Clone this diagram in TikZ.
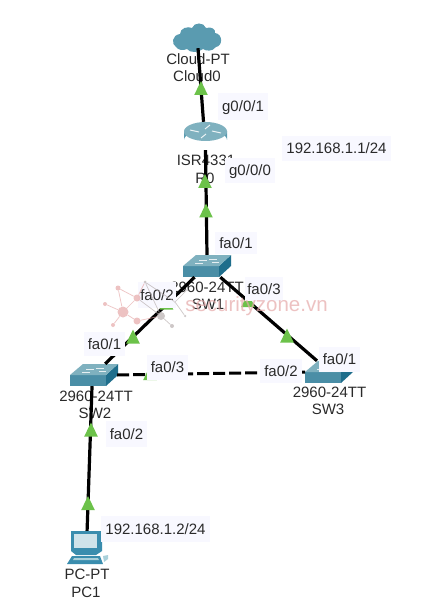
\documentclass[tikz,border=0pt]{standalone}
\usepackage{fontspec}
\setmainfont{Liberation Sans}
\definecolor{boxbg}{HTML}{F8F8FF}
\definecolor{txt}{HTML}{2A2A2A}
\definecolor{arrowgreen}{HTML}{6CC24A}
\definecolor{swfront}{HTML}{4A8EA6}
\definecolor{swtop}{HTML}{7FB1BF}
\definecolor{swside}{HTML}{1F6E8C}
\definecolor{tealdark}{HTML}{5A9BB0}
\definecolor{teallight}{HTML}{A9D0DA}
\definecolor{pcblue}{HTML}{3A8DAE}
\definecolor{pcscreen}{HTML}{CFE3EA}
\definecolor{wmark}{HTML}{E6A9A9}
\definecolor{wgray}{HTML}{B9B0B0}
\tikzset{
  devlabel/.style={font=\fontsize{15}{15}\selectfont,text=txt,inner sep=0pt,text height=10.7pt,text depth=0pt},
  portbox/.style={devlabel,fill=boxbg,minimum height=#1},
  portbox/.default=25pt,
  devframe/.style={inner sep=0pt,draw=none,fill=none},
  wire/.style={line width=3.2pt,black},
  dashwire/.style={line width=3pt,black,dash pattern=on 12pt off 4pt},
  gtri/.pic={\fill[arrowgreen] (-6.8,0) -- (0,-14) -- (6.8,0) -- cycle;},
  switchicon/.pic={
    \fill[swfront] (-24,0) rectangle (12,11);
    \fill[swside] (12,11) -- (24,0) -- (24,-11) -- (12,0) -- cycle;
    \fill[swtop] (-24,0) -- (-11,-11) -- (24,-11) -- (12,0) -- cycle;
    \draw[white,line width=.7pt,opacity=.8] (-12,-3) -- (-4,-3) (-8,-6) -- (0,-6) (2,-7) -- (10,-7) (5,-4) -- (12,-4);
  },
  wdot/.style={circle,fill=wmark,inner sep=0pt,minimum size=#1},
  wgdot/.style={circle,fill=wgray,inner sep=0pt,minimum size=#1},
}
\begin{document}
\begin{tikzpicture}[x=1pt,y=-1pt]
\useasboundingbox[fill=white] (0,0) rectangle (431,609);
% device labels (under the wires)
\node[devlabel] (lc1) at (198,59) {Cloud-PT};
\node[devlabel] (lc2) at (197,76) {Cloud0};
\node[devlabel] (lr1) at (206,160) {ISR4331};
\node[devlabel] (lr2) at (205,178) {R0};
\node[devlabel] (ls1a) at (207,287) {2960-24TT};
\node[devlabel] (ls1b) at (208,304) {SW1};
\node[devlabel] (ls2a) at (96,396) {2960-24TT};
\node[devlabel] (ls2b) at (95,413) {SW2};
\node[devlabel] (ls3a) at (329.5,392) {2960-24TT};
\node[devlabel] (ls3b) at (328,409) {SW3};
\node[devlabel] (lp1) at (87,574) {PC-PT};
\node[devlabel] (lp2) at (86,592) {PC1};
% device frames
\node[devframe,minimum width=47pt,minimum height=24pt] (cloud) at (198,36) {};
\node[devframe,minimum width=43pt,minimum height=28pt] (router) at (205.5,136) {};
\node[devframe,minimum width=48pt,minimum height=22pt] (sw1) at (207,266) {};
\node[devframe,minimum width=46pt,minimum height=22pt] (sw2) at (94,375) {};
\node[devframe,minimum width=46pt,minimum height=22pt] (sw3) at (329,372) {};
\node[devframe,minimum width=37pt,minimum height=34pt] (pc) at (89.5,548) {};
% cloud
\shade[left color=tealdark,middle color=teallight,right color=tealdark]
  (176,47) .. controls (171,44) and (172,35) .. (180,34)
  .. controls (180,28) and (188,26) .. (192,28)
  .. controls (194,22) and (204,22) .. (206,28)
  .. controls (212,26) and (216,30) .. (215,33)
  .. controls (223,34) and (223,46) .. (216,47)
  .. controls (212,52) and (206,51) .. (203,49)
  .. controls (198,53) and (190,53) .. (187,49)
  .. controls (183,51) and (178,50) .. (176,47) -- cycle;
% router
\shade[left color=tealdark,middle color=white!70!teallight,right color=tealdark]
  (184,131) -- (184,140) arc[start angle=180,end angle=360,x radius=21.5,y radius=9.5] -- (227,131) -- cycle;
\fill[swtop] (205.5,131.5) ellipse[x radius=21.5,y radius=9.5];
\draw[white,line width=1pt,opacity=.85] (190,130) -- (199,132) (221,133) -- (212,131) (210,125) -- (205,129) (201,138) -- (206,134);
% switches
\pic at (sw1.center) {switchicon};
\pic at (sw2.center) {switchicon};
\pic at (sw3.center) {switchicon};
% PC
\fill[pcblue] (71,531) -- (102,531) -- (102,551) -- (96,555) -- (76,555) -- (71,551) -- cycle;
\fill[pcscreen] (74,534) rectangle (97,548);
\fill[pcblue] (72,556) -- (100,556) -- (103,564) -- (67,564) -- cycle;
\fill[teallight] (74,558) -- (98,558) -- (99,560) -- (73,560) -- cycle;
\fill[teallight] (103,556) -- (108,555) -- (108,559) -- (104,562) -- cycle;
% connectors
\draw[wire] (cloud.south) -- (router.98);
\draw[wire] (router.south) -- (sw1.north);
\draw[wire] (sw1.222.5) -- (sw2.45);
\draw[wire] (sw1.-40) -- (sw3.137.5);
\draw[dashwire] (sw2.east) -- (sw3.west);
\draw[wire] (sw2.260) -- (pc.98);
% link markers
\pic at (201,95) {gtri};
\pic at (205,188) {gtri};
\pic at (206,217.5) {gtri};
\pic at (166.5,309.5) {gtri};
\pic at (133,343.5) {gtri};
\pic at (248,307) {gtri};
\pic at (287,342.5) {gtri};
\pic at (150,380) {gtri};
\pic at (91,436.5) {gtri};
\pic at (88,510) {gtri};
% port labels
\node[portbox=27pt,minimum width=50pt] (p1) at (243,106.5) {g0/0/1};
\node[portbox,minimum width=50pt] (p2) at (250,170.5) {g0/0/0};
\node[portbox,minimum width=109pt] (ip1) at (336.5,148.5) {192.168.1.1/24};
\node[portbox=21pt,minimum width=42pt] (p3) at (236,243) {fa0/1};
\node[portbox=26pt,minimum width=38pt] (p4) at (157,295) {fa0/2};
\node[portbox=24pt,minimum width=38pt] (p5) at (264,289) {fa0/3};
\node[portbox=24pt,minimum width=41pt] (p6) at (104.5,344) {fa0/1};
\node[portbox,minimum width=41pt] (p7) at (167.5,367.5) {fa0/3};
\node[portbox=24pt,minimum width=42pt] (p8) at (281,371) {fa0/2};
\node[portbox,minimum width=41pt] (p9) at (339.5,359) {fa0/1};
\node[portbox=26pt,minimum width=41pt] (p10) at (126.5,434) {fa0/2};
\node[portbox=26pt,minimum width=109pt] (ip2) at (155.5,529) {192.168.1.2/24};
% watermark
\begin{scope}[opacity=.7]
\node[wdot=11pt] (w0) at (123,312) {};
\node[wdot=5pt] (w1) at (118,288) {};
\node[wdot=4pt] (w2) at (105,304) {};
\node[wdot=7pt] (w3) at (137,298) {};
\node[wdot=7pt] (w4) at (137,321) {};
\node[wdot=4pt] (w5) at (113,325) {};
\node[wgdot=3pt] (w6) at (145,282) {};
\node[wgdot=8pt] (w7) at (161,316) {};
\node[wgdot=4pt] (w8) at (172,326) {};
\node[wgdot=2.5pt] (w9) at (185,316) {};
\node[wgdot=2pt] (w10) at (175,302) {};
\node[wgdot=2pt] (w11) at (187,290) {};
\draw[wmark,line width=.7pt] (w0) -- (w1) (w0) -- (w2) (w0) -- (w3) (w0) -- (w4) (w0) -- (w5) (w3) -- (w1) (w3) -- (w6) (w4) -- (w7);
\draw[wgray,line width=.7pt] (w3) -- (w7) (w6) -- (w7) (w7) -- (w8) (w6) -- (w10) (w10) -- (w9) (w10) -- (w11);
\node[font=\fontsize{20.5}{20.5}\selectfont,text=wmark,inner sep=0pt] (wm) at (256.5,306) {securityzone.vn};
\end{scope}
\end{tikzpicture}
\end{document}
